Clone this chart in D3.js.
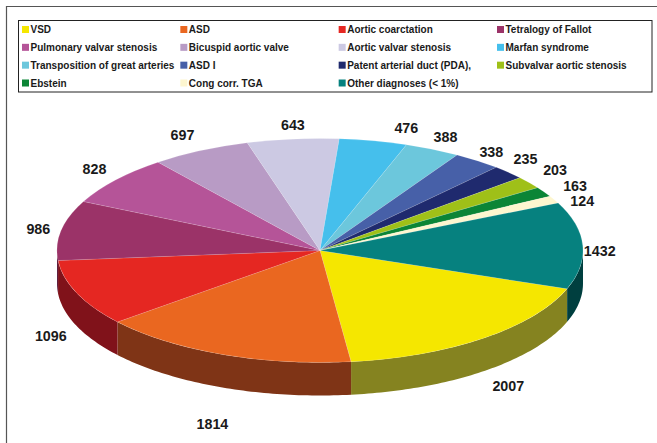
<!DOCTYPE html>
<html>
<head>
<meta charset="utf-8">
<script src="https://cdn.jsdelivr.net/npm/d3@7"></script>
<style>
html,body{margin:0;padding:0;background:#fff;}
svg{display:block;}
text{font-family:"Liberation Sans",Arial,sans-serif;font-weight:bold;fill:#1a1a1a;}
</style>
</head>
<body>
<div id="chart"></div>
<script>
var diagnoses=["VSD","ASD","Aortic coarctation","Tetralogy of Fallot","Pulmonary valvar stenosis","Bicuspid aortic valve","Aortic valvar stenosis","Marfan syndrome","Transposition of great arteries","ASD I","Patent arterial duct (PDA),","Subvalvar aortic stenosis","Ebstein","Cong corr. TGA","Other diagnoses (< 1%)"];
var counts=[2007,1814,1096,986,828,697,643,476,388,338,235,203,163,124,1432];
var topColors=["#f5e700","#ea6720","#e52722","#9b3368","#b55498","#b89bc5","#ccc9e3","#45bfec","#6cc7dc","#4760a8","#1f2a6e","#9fc018","#0b8536","#fdf6cf","#06817f"];
var wallColors=["#858320","#7f3416","#80121a","#5e1f40","#6e3360","#705e78","#7c7a8a","#2a748f","#417985","#2b3a66","#131a43","#61750f","#075121","#9a9680","#003f3f"];
/* label shift from the rim point of each slice */
var labelShift=[[25,48],[-10,69],[-26,43],[-23,-1],[-21,-11],[-18,-16],[0,-14],[33,-13],[13,-12],[14,-9],[17,-13],[26,-13],[31,-6],[28,1],[17,5]];

var W=657,H=443;
var cx=320,cy=250.5,rx=263,ry=112,depth=33;
var start=110*Math.PI/180;

var svg=d3.select("#chart").append("svg").attr("width",W).attr("height",H).attr("viewBox","0 0 "+W+" "+H);

/* outer frame, only top and left show */
svg.append("path").attr("d","M6.5,443V6.5H657").attr("fill","none").attr("stroke","#555").attr("stroke-width",1.2);

/* legend */
svg.append("rect").attr("x",18.5).attr("y",20.5).attr("width",633.5).attr("height",71.5)
    .attr("fill","#fff").attr("stroke","#222").attr("stroke-width",1);
var colX=d3.scalePoint().domain([0,1,2,3]).range([22,497]);
var rowY=d3.scalePoint().domain([0,1,2,3]).range([29.5,83]);
var lg=svg.selectAll("g.lg").data(diagnoses).enter().append("g").attr("class","lg")
    .attr("transform",function(d,i){return "translate("+colX(i%4)+","+rowY(Math.floor(i/4))+")";});
lg.append("rect").attr("y",-3.5).attr("width",7).attr("height",7).attr("fill",function(d,i){return topColors[i];});
lg.append("text").attr("x",8.5).attr("y",3.5).style("font-size","10px").text(function(d){return d;});

var pie=d3.pie().sort(null).startAngle(start).endAngle(start+2*Math.PI);
var slices=pie(counts);

/* side wall: only the front half of the rim is visible */
function rimX(a){return cx+rx*Math.sin(a);}
function rimY(a){return cy-ry*Math.cos(a);}
var wall=d3.area().x(function(a){return rimX(a);}).y0(function(a){return rimY(a);}).y1(function(a){return rimY(a)+depth;});
var frontA=Math.PI/2, frontB=Math.PI*1.5;
var walls=svg.append("g");
slices.forEach(function(s,i){
    [0,2*Math.PI].forEach(function(turn){
        var a0=Math.max(s.startAngle-turn,frontA), a1=Math.min(s.endAngle-turn,frontB);
        if(a1<=a0)return;
        var n=Math.ceil((a1-a0)*60);
        var pts=d3.range(n+1).map(function(k){return a0+(a1-a0)*k/n;});
        walls.append("path").attr("d",wall(pts)).attr("fill",wallColors[i]);
    });
});

/* top face */
var arc=d3.arc().innerRadius(0).outerRadius(rx);
svg.append("g").attr("transform","translate("+cx+","+cy+") scale(1,"+(ry/rx)+")")
    .selectAll("path").data(slices).enter().append("path")
    .attr("d",arc).attr("fill",function(d,i){return topColors[i];})
    .attr("stroke","#fff").attr("stroke-opacity",0.35).attr("stroke-width",0.5);

/* value labels */
svg.selectAll("text.val").data(slices).enter().append("text").attr("class","val")
    .attr("x",function(d,i){return rimX((d.startAngle+d.endAngle)/2)+labelShift[i][0];})
    .attr("y",function(d,i){return rimY((d.startAngle+d.endAngle)/2)+labelShift[i][1]+5;})
    .attr("text-anchor","middle").style("font-size","14.3px")
    .text(function(d){return d.value;});
</script>
</body>
</html>
